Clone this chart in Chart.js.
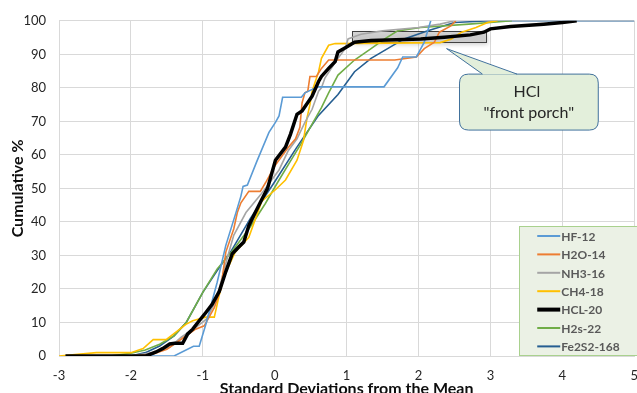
<!DOCTYPE html>
<html>
<head>
<meta charset="utf-8">
<script src="https://cdn.jsdelivr.net/npm/chart.js@4.4.1/dist/chart.umd.min.js"></script>
<style>
  html, body { margin: 0; padding: 0; overflow: hidden; background: #fff; }
  canvas { display: block; }
</style>
</head>
<body>
<canvas id="cdf" width="650" height="400"></canvas>
<script>
  // series names + colours, same order as the excel legend
  const seriesNames = ["HF-12", "H2O-14", "NH3-16", "CH4-18", "HCL-20", "H2s-22", "Fe2S2-168"];
  const seriesColors = ["#5B9BD5", "#ED7D31", "#A5A5A5", "#FFC000", "#000000", "#70AD47", "#255E91"];

  // x = standard deviations from the mean, y = cumulative %
  const hfX = [-1.75, -1.4, -1.13, -1.05, -0.95, -0.8, -0.68, -0.54, -0.47, -0.44, -0.38, -0.25, -0.08, 0.01, 0.06, 0.11, 0.37, 0.42, 0.6, 1.52, 1.71, 1.78, 1.97, 2.08, 2.17];
  const hfY = [0, 0, 2.9, 2.9, 10, 22, 33, 42.7, 47.7, 50.6, 51, 58, 66.7, 69.7, 71.6, 77.2, 77.2, 78.5, 80.3, 80.3, 86, 89.2, 89.2, 93.6, 100];

  const h2oX = [-2.0, -1.7, -1.5, -1.3, -1.1, -0.98, -0.84, -0.75, -0.68, -0.57, -0.52, -0.47, -0.36, -0.2, -0.13, 0.01, 0.19, 0.29, 0.35, 0.38, 0.42, 0.46, 0.49, 0.58, 0.65, 0.75, 1.67, 1.97, 2.08, 2.22, 2.29, 2.45, 2.52];
  const h2oY = [0, 0.5, 2, 5, 8, 9, 14.4, 20, 31, 37.9, 42.8, 45.7, 49.1, 49.1, 51.6, 57, 62.3, 64.8, 68.2, 75.5, 78.5, 79, 83.4, 83.4, 85.8, 88.3, 88.3, 89.2, 91.7, 93.6, 96.6, 98.5, 100];

  const nh3X = [-2.0, -1.7, -1.46, -1.3, -1.1, -0.95, -0.82, -0.77, -0.65, -0.57, -0.4, -0.2, 0.06, 0.19, 0.31, 0.42, 0.52, 0.61, 0.65, 0.7, 0.88, 0.98, 1.02, 1.2, 1.5, 2.0, 2.3, 2.5];
  const nh3Y = [0, 1, 2.6, 5.6, 8.5, 11, 16.4, 20.3, 30, 36, 42.8, 48, 55.5, 61.3, 64.8, 69.7, 73.6, 79, 80, 83, 88.8, 91.7, 94.6, 96, 97, 98, 99, 100];

  const ch4X = [-3.0, -2.48, -2.0, -1.83, -1.69, -1.51, -1.23, -1.14, -0.96, -0.84, -0.77, -0.7, -0.55, -0.36, -0.18, 0.01, 0.15, 0.31, 0.4, 0.45, 0.49, 0.52, 0.61, 0.65, 0.75, 0.84, 2.3, 2.45, 2.6, 2.8, 2.96, 3.1];
  const ch4Y = [0, 1, 1, 2.2, 4.9, 4.9, 9.5, 10.5, 11.6, 11.6, 18.3, 24, 31, 35.4, 46.2, 49.6, 52.5, 58.4, 64.3, 71.1, 75, 79, 84.8, 88.8, 92.7, 93.2, 93.5, 94.5, 96.6, 98, 99.5, 100];

  const hclX = [-2.91, -1.79, -1.65, -1.56, -1.46, -1.39, -1.28, -1.21, -1.14, -1.05, -0.96, -0.87, -0.77, -0.68, -0.59, -0.5, -0.43, -0.36, -0.27, -0.18, -0.1, 0.01, 0.15, 0.22, 0.31, 0.38, 0.52, 0.61, 0.65, 0.75, 0.84, 0.88, 1.0, 1.11, 1.34, 2.03, 2.36, 2.72, 2.91, 3.0, 3.28, 3.74, 4.0, 4.2];
  const hclY = [0, 0, 1.2, 2.2, 3.6, 3.8, 3.8, 6.6, 8, 10.5, 12.9, 15.4, 19.3, 25.2, 30.5, 32.5, 34, 38.9, 42.8, 46.7, 50, 58.4, 62.3, 66.2, 72.1, 73.1, 77.5, 81.9, 83.4, 85.8, 87.8, 90.7, 92.2, 93.6, 94.1, 94.6, 95.1, 95.8, 96.6, 97.6, 98.3, 99, 99.5, 100];

  const h2sX = [-2.29, -2.0, -1.8, -1.6, -1.4, -1.23, -1.0, -0.8, -0.6, -0.34, -0.13, 0.06, 0.24, 0.38, 0.52, 0.65, 0.75, 0.88, 1.11, 1.34, 1.53, 1.71, 2.03, 2.7, 3.3];
  const h2sY = [0, 0.8, 1.8, 3.5, 6, 10, 19, 26, 31, 38.5, 45.5, 52.5, 58.9, 63.8, 69.2, 74.1, 78.5, 83.8, 88.3, 91.7, 94.6, 97, 98, 99, 100];

  const fe2s2X = [-2.0, -1.8, -1.6, -1.4, -1.23, -1.0, -0.8, -0.6, -0.34, 0, 0.3, 0.6, 0.88, 1.11, 1.34, 1.57, 1.8, 2.13, 2.5, 3.0, 5.2];
  const fe2s2Y = [0, 1, 3, 6, 10, 19, 25.5, 31.5, 41, 52, 62, 71.5, 78, 84.8, 88.8, 91.7, 94.6, 97, 99.5, 100, 100];

  const allX = [hfX, h2oX, nh3X, ch4X, hclX, h2sX, fe2s2X];
  const allY = [hfY, h2oY, nh3Y, ch4Y, hclY, h2sY, fe2s2Y];

  const xTicks = [-3, -2, -1, 0, 1, 2, 3, 4, 5];
  const yTicks = [0, 10, 20, 30, 40, 50, 60, 70, 80, 90, 100];

  // the grey "front porch" box and the callout, in data units
  const porchBox = { x0: 1.08, x1: 2.95, y0: 93.5, y1: 96.9 };
  const callout = { x0: 2.57, x1: 4.5, y0: 67.4, y1: 84.1, tipX: 2.39, tipY: 91.7, baseX0: 2.89, baseX1: 3.37 };
  const calloutText = ["HCl", "\"front porch\""];

  const FONT = "Lato, 'Open Sans', sans-serif";

  const roundRect = function (ctx, x, y, w, h, r) {
    ctx.beginPath();
    ctx.moveTo(x + r, y);
    ctx.lineTo(x + w - r, y);
    ctx.quadraticCurveTo(x + w, y, x + w, y + r);
    ctx.lineTo(x + w, y + h - r);
    ctx.quadraticCurveTo(x + w, y + h, x + w - r, y + h);
    ctx.lineTo(x + r, y + h);
    ctx.quadraticCurveTo(x, y + h, x, y + h - r);
    ctx.lineTo(x, y + r);
    ctx.quadraticCurveTo(x, y, x + r, y);
    ctx.closePath();
  };

  const porchPlugin = {
    id: 'porch',
    beforeDatasetsDraw(chart) {
      const { ctx, scales: { x, y } } = chart;
      const l = x.getPixelForValue(porchBox.x0), r = x.getPixelForValue(porchBox.x1);
      const t = y.getPixelForValue(porchBox.y1), b = y.getPixelForValue(porchBox.y0);
      ctx.save();
      ctx.shadowColor = 'rgba(0,0,0,0.25)';
      ctx.shadowBlur = 4;
      ctx.shadowOffsetX = 1;
      ctx.shadowOffsetY = 2;
      ctx.fillStyle = 'rgba(200,200,200,0.75)';
      ctx.fillRect(l, t, r - l, b - t);
      ctx.restore();
      ctx.save();
      ctx.strokeStyle = '#404040';
      ctx.lineWidth = 1;
      ctx.strokeRect(Math.round(l) + 0.5, Math.round(t) + 0.5, Math.round(r - l), Math.round(b - t));
      ctx.restore();
    },
    afterDatasetsDraw(chart) {
      const { ctx, scales: { x, y } } = chart;
      // callout bubble with a pointer up to the box
      const l = x.getPixelForValue(callout.x0), r = x.getPixelForValue(callout.x1);
      const t = y.getPixelForValue(callout.y1), b = y.getPixelForValue(callout.y0);
      const tipX = x.getPixelForValue(callout.tipX), tipY = y.getPixelForValue(callout.tipY);
      const bx0 = x.getPixelForValue(callout.baseX0), bx1 = x.getPixelForValue(callout.baseX1);
      ctx.save();
      ctx.fillStyle = '#E3EFDB';
      ctx.strokeStyle = '#41719C';
      ctx.lineWidth = 1;
      roundRect(ctx, l, t, r - l, b - t, 9);
      ctx.fill();
      ctx.stroke();
      ctx.beginPath();
      ctx.moveTo(bx0, t + 0.5);
      ctx.lineTo(tipX, tipY);
      ctx.lineTo(bx1, t + 0.5);
      ctx.closePath();
      ctx.fill();
      ctx.beginPath();
      ctx.moveTo(bx0, t);
      ctx.lineTo(tipX, tipY);
      ctx.lineTo(bx1, t);
      ctx.stroke();
      ctx.fillStyle = '#262626';
      ctx.font = `16px ${FONT}`;
      ctx.textAlign = 'center';
      ctx.textBaseline = 'middle';
      const cx = (l + r) / 2;
      ctx.fillText(calloutText[0], cx - 2, t + (b - t) * 0.32);
      ctx.fillText(calloutText[1], cx, t + (b - t) * 0.69);

      // legend box, bottom right inside the plot like excel
      const area = chart.chartArea;
      const lx = area.right - 115, ly = area.bottom - 130;
      ctx.fillStyle = '#EBF1E5';
      ctx.strokeStyle = '#A9D18E';
      ctx.fillRect(lx, ly, area.right - lx + 20, area.bottom - ly);
      ctx.strokeRect(Math.round(lx) + 0.5, Math.round(ly) + 0.5, area.right - lx + 20, area.bottom - ly - 1);
      ctx.font = `bold 12px ${FONT}`;
      ctx.textAlign = 'left';
      seriesNames.forEach(function (name, i) {
        const rowY = ly + 10 + i * 18.4;
        ctx.strokeStyle = seriesColors[i];
        ctx.lineWidth = name === "HCL-20" ? 4 : 2;
        ctx.beginPath();
        ctx.moveTo(lx + 18, rowY);
        ctx.lineTo(lx + 41, rowY);
        ctx.stroke();
        ctx.fillStyle = '#595959';
        ctx.fillText(name, lx + 42, rowY + 1);
      });
      ctx.restore();
    }
  };

  const datasets = seriesNames.map(function (name, i) {
    return {
      label: name,
      data: allX[i].map((v, j) => ({ x: v, y: allY[i][j] })),
      borderColor: seriesColors[i],
      backgroundColor: seriesColors[i],
      borderWidth: name === "HCL-20" ? 3.5 : 1.6,
      pointRadius: 0,
      showLine: true,
      tension: 0,
      order: name === "HCL-20" ? 0 : 1
    };
  });

  new Chart(document.getElementById('cdf'), {
    type: 'scatter',
    data: { datasets: datasets },
    options: {
      responsive: false,
      animation: false,
      devicePixelRatio: 1,
      layout: { padding: { top: 15, right: 12, left: 0, bottom: 0 } },
      plugins: {
        legend: { display: false },
        tooltip: { enabled: false }
      },
      scales: {
        x: {
          type: 'linear',
          min: -3, max: 5,
          afterBuildTicks: (scale) => { scale.ticks = xTicks.map(v => ({ value: v })); },
          afterFit: (scale) => { scale.height = 44; },
          grid: { color: '#D9D9D9', drawTicks: false },
          border: { color: '#D9D9D9' },
          ticks: { color: '#262626', font: { family: FONT, size: 13 }, padding: 12 },
          title: {
            display: true,
            text: 'Standard Deviations from the Mean',
            color: '#0D0D0D',
            font: { family: FONT, size: 16, weight: 'bold' },
            padding: { top: 0, bottom: 2 }
          }
        },
        y: {
          type: 'linear',
          min: 0, max: 100,
          afterBuildTicks: (scale) => { scale.ticks = yTicks.map(v => ({ value: v })); },
          afterFit: (scale) => { scale.width = 59; },
          grid: { color: '#D9D9D9', drawTicks: false },
          border: { color: '#D9D9D9' },
          ticks: { color: '#262626', font: { family: FONT, size: 13 }, padding: 13 },
          title: {
            display: true,
            text: 'Cumulative %',
            color: '#0D0D0D',
            font: { family: FONT, size: 16, weight: 'bold' },
            padding: { top: 8, bottom: 0 }
          }
        }
      }
    },
    plugins: [porchPlugin]
  });
</script>
</body>
</html>
